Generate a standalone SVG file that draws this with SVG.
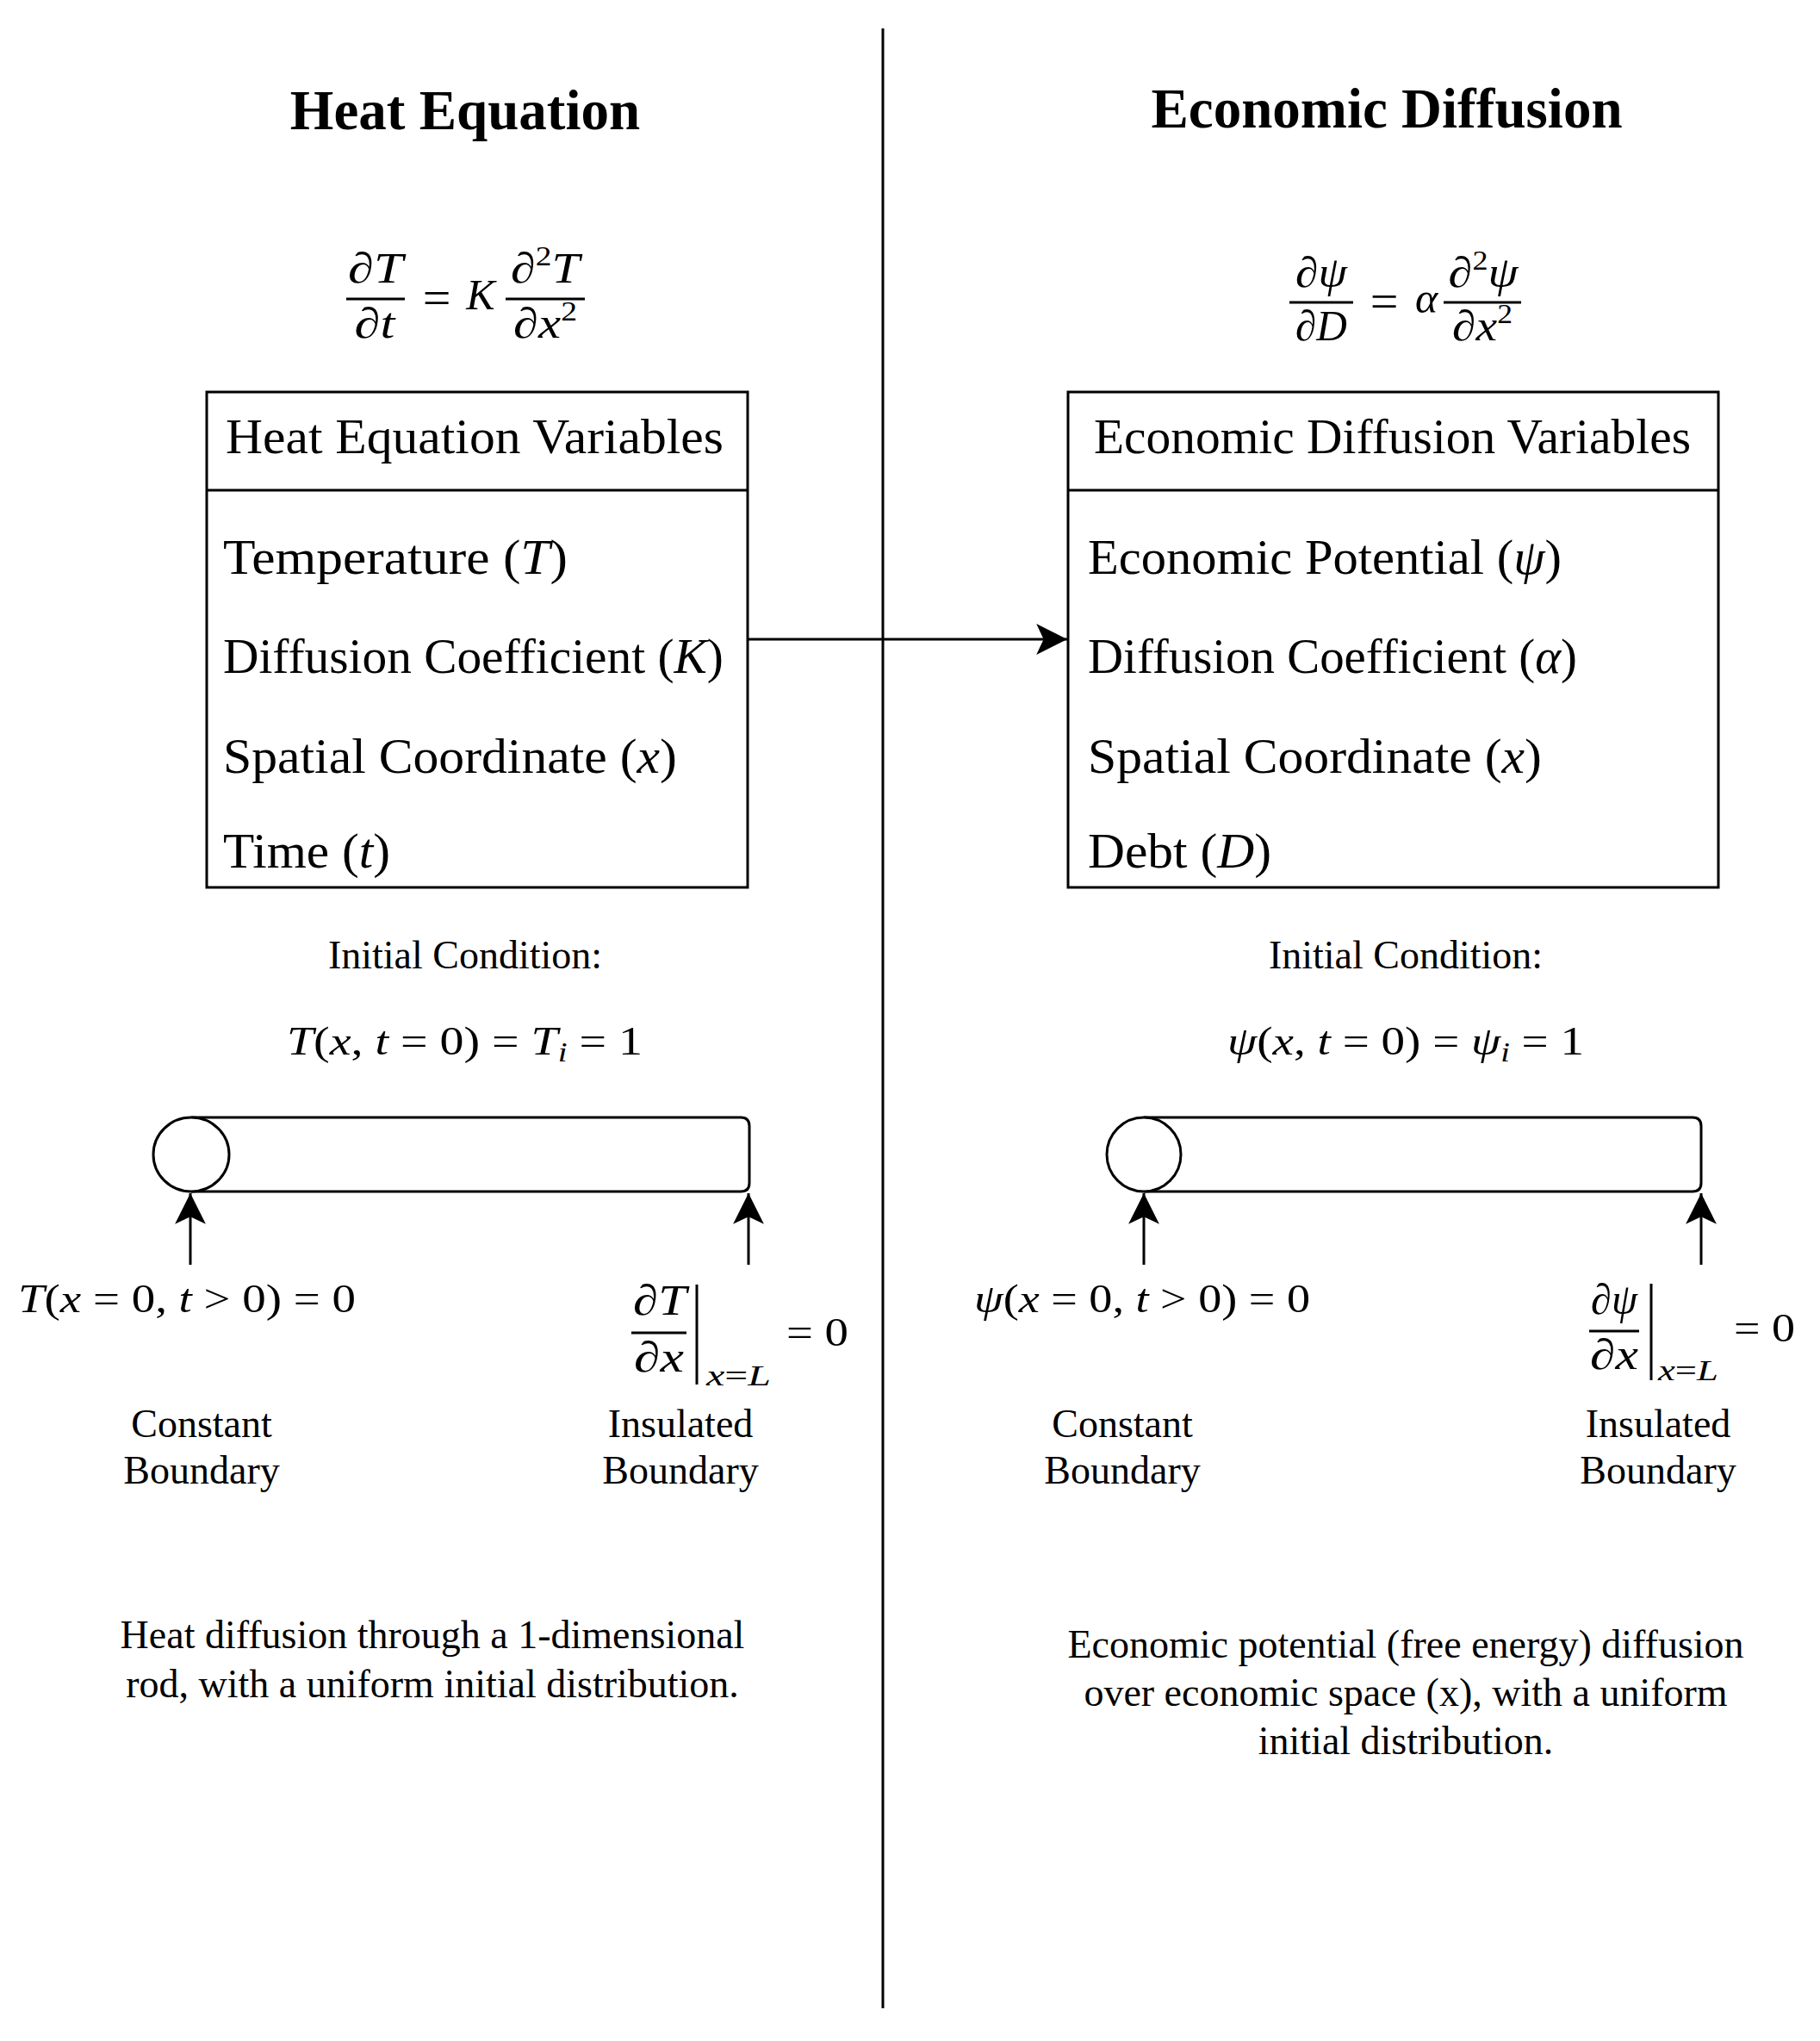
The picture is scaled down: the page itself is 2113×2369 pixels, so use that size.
<svg xmlns="http://www.w3.org/2000/svg" width="2113" height="2369" viewBox="0 0 2113 2369">
<style>
.t{font-family:"Liberation Serif","Times New Roman",serif;fill:#000}
.title{font-size:65px;font-weight:bold;text-anchor:middle}
.lbl{font-size:46px;text-anchor:middle}
.cm{font-size:56px}
.m{font-size:46px}
.mc{font-size:50px;text-anchor:middle}
.eqs{font-size:58px;text-anchor:middle}
.sub{font-size:34px}
.i{font-style:italic}
.ln{stroke:#000;stroke-width:3;fill:none}
.box{stroke:#000;stroke-width:3;fill:#fff}
</style>
<defs>
<marker id="arr" markerUnits="userSpaceOnUse" markerWidth="40" markerHeight="40" viewBox="-36 -18 38 36" refX="0" refY="0" orient="auto">
<path d="M0,0 L-34,-17 L-26,0 L-34,17 Z" fill="#000"/>
</marker>
</defs>
<rect width="2113" height="2369" fill="#fff"/>

<g id="divider"><line class="ln" x1="1025" y1="33" x2="1025" y2="2331"/></g>

<g id="title-heat"><text class="t title" x="540" y="150">Heat Equation</text></g>
<g id="title-econ"><text class="t title" x="1610" y="148">Economic Diffusion</text></g>

<g id="eq-heat">
<text class="t mc i" x="436" y="328" textLength="64" lengthAdjust="spacingAndGlyphs">∂T</text>
<line class="ln" x1="402" y1="347" x2="470" y2="347"/>
<text class="t mc i" x="435" y="392" textLength="47" lengthAdjust="spacingAndGlyphs">∂t</text>
<text class="t eqs" x="507" y="365">=</text>
<text class="t mc i" x="558" y="359">K</text>
<line class="ln" x1="587" y1="347" x2="679" y2="347"/>
<text class="t mc i" x="633" y="328" textLength="80" lengthAdjust="spacingAndGlyphs">∂<tspan font-size="32" dy="-20" font-style="normal">2</tspan><tspan dy="20">T</tspan></text>
<text class="t mc i" x="633" y="392" textLength="74" lengthAdjust="spacingAndGlyphs">∂x<tspan font-size="32" dy="-20" font-style="normal">2</tspan></text>
</g>

<g id="eq-econ">
<text class="t mc i" x="1534" y="333" textLength="60" lengthAdjust="spacingAndGlyphs">∂ψ</text>
<line class="ln" x1="1497" y1="351" x2="1571" y2="351"/>
<text class="t mc i" x="1534" y="395" textLength="60" lengthAdjust="spacingAndGlyphs">∂D</text>
<text class="t eqs" x="1607" y="369">=</text>
<text class="t mc i" x="1656" y="363">α</text>
<line class="ln" x1="1676" y1="351" x2="1766" y2="351"/>
<text class="t mc i" x="1722" y="333" textLength="81" lengthAdjust="spacingAndGlyphs">∂<tspan font-size="32" dy="-20" font-style="normal">2</tspan><tspan dy="20">ψ</tspan></text>
<text class="t mc i" x="1721" y="395" textLength="70" lengthAdjust="spacingAndGlyphs">∂x<tspan font-size="32" dy="-20" font-style="normal">2</tspan></text>
</g>

<g id="heat-vars">
<rect class="box" x="240" y="455" width="628" height="575"/>
<line class="ln" x1="240" y1="569" x2="868" y2="569"/>
<text class="t cm" x="262" y="526" textLength="578" lengthAdjust="spacingAndGlyphs">Heat Equation Variables</text>
<text class="t cm" x="259" y="666" textLength="400" lengthAdjust="spacingAndGlyphs">Temperature (<tspan class="i">T</tspan>)</text>
<text class="t cm" x="259" y="781" textLength="581" lengthAdjust="spacingAndGlyphs">Diffusion Coefficient (<tspan class="i">K</tspan>)</text>
<text class="t cm" x="259" y="897" textLength="527" lengthAdjust="spacingAndGlyphs">Spatial Coordinate (<tspan class="i">x</tspan>)</text>
<text class="t cm" x="259" y="1007" textLength="194" lengthAdjust="spacingAndGlyphs">Time (<tspan class="i">t</tspan>)</text>
</g>

<g id="econ-vars">
<rect class="box" x="1240" y="455" width="755" height="575"/>
<line class="ln" x1="1240" y1="569" x2="1995" y2="569"/>
<text class="t cm" x="1270" y="526" textLength="693" lengthAdjust="spacingAndGlyphs">Economic Diffusion Variables</text>
<text class="t cm" x="1263" y="666" textLength="550" lengthAdjust="spacingAndGlyphs">Economic Potential (<tspan class="i">ψ</tspan>)</text>
<text class="t cm" x="1263" y="781" textLength="568" lengthAdjust="spacingAndGlyphs">Diffusion Coefficient (<tspan class="i">α</tspan>)</text>
<text class="t cm" x="1263" y="897" textLength="527" lengthAdjust="spacingAndGlyphs">Spatial Coordinate (<tspan class="i">x</tspan>)</text>
<text class="t cm" x="1263" y="1007" textLength="213" lengthAdjust="spacingAndGlyphs">Debt (<tspan class="i">D</tspan>)</text>
</g>

<g id="ic-heat">
<text class="t lbl" x="540" y="1124">Initial Condition:</text>
<text class="t m" x="333" y="1224" textLength="413" lengthAdjust="spacingAndGlyphs"><tspan class="i">T</tspan>(<tspan class="i">x</tspan>, <tspan class="i">t</tspan> = 0) = <tspan class="i">T</tspan><tspan class="i" font-size="32" dy="8">i</tspan><tspan dy="-8"> = 1</tspan></text>
</g>

<g id="ic-econ">
<text class="t lbl" x="1632" y="1124">Initial Condition:</text>
<text class="t m" x="1425" y="1224" textLength="414" lengthAdjust="spacingAndGlyphs"><tspan class="i">ψ</tspan>(<tspan class="i">x</tspan>, <tspan class="i">t</tspan> = 0) = <tspan class="i">ψ</tspan><tspan class="i" font-size="32" dy="8">i</tspan><tspan dy="-8"> = 1</tspan></text>
</g>

<g id="rod-heat">
<path class="ln" d="M222,1297 H860 Q870,1297 870,1307 V1373 Q870,1383 860,1383 H222"/>
<ellipse class="box" cx="222" cy="1340" rx="44" ry="43"/>
</g>

<g id="rod-econ">
<path class="ln" d="M1328,1297 H1965 Q1975,1297 1975,1307 V1373 Q1975,1383 1965,1383 H1328"/>
<ellipse class="box" cx="1328" cy="1340" rx="43" ry="43"/>
</g>

<g id="bc-heat-left">
<text class="t m" x="21" y="1523" textLength="392" lengthAdjust="spacingAndGlyphs"><tspan class="i">T</tspan>(<tspan class="i">x</tspan> = 0, <tspan class="i">t</tspan> &gt; 0) = 0</text>
<text class="t lbl" x="234" y="1668">Constant</text>
<text class="t lbl" x="234" y="1722">Boundary</text>
</g>

<g id="bc-heat-right">
<text class="t mc i" x="766" y="1526" textLength="62" lengthAdjust="spacingAndGlyphs">∂T</text>
<line class="ln" x1="733" y1="1547" x2="797" y2="1547"/>
<text class="t mc i" x="765" y="1592" textLength="58" lengthAdjust="spacingAndGlyphs">∂x</text>
<line class="ln" x1="809" y1="1491" x2="809" y2="1607"/>
<text class="t sub" x="820" y="1608" textLength="75" lengthAdjust="spacingAndGlyphs"><tspan class="i">x</tspan>=<tspan class="i">L</tspan></text>
<text class="t m" x="913" y="1562" textLength="72" lengthAdjust="spacingAndGlyphs">= 0</text>
<text class="t lbl" x="790" y="1668">Insulated</text>
<text class="t lbl" x="790" y="1722">Boundary</text>
</g>

<g id="bc-econ-left">
<text class="t m" x="1131" y="1523" textLength="390" lengthAdjust="spacingAndGlyphs"><tspan class="i">ψ</tspan>(<tspan class="i">x</tspan> = 0, <tspan class="i">t</tspan> &gt; 0) = 0</text>
<text class="t lbl" x="1303" y="1668">Constant</text>
<text class="t lbl" x="1303" y="1722">Boundary</text>
</g>

<g id="bc-econ-right">
<text class="t mc i" x="1874" y="1525" textLength="54" lengthAdjust="spacingAndGlyphs">∂ψ</text>
<line class="ln" x1="1845" y1="1545" x2="1903" y2="1545"/>
<text class="t mc i" x="1874" y="1589" textLength="56" lengthAdjust="spacingAndGlyphs">∂x</text>
<line class="ln" x1="1917" y1="1490" x2="1917" y2="1602"/>
<text class="t sub" x="1925" y="1602" textLength="70" lengthAdjust="spacingAndGlyphs"><tspan class="i">x</tspan>=<tspan class="i">L</tspan></text>
<text class="t m" x="2013" y="1557" textLength="71" lengthAdjust="spacingAndGlyphs">= 0</text>
<text class="t lbl" x="1925" y="1668">Insulated</text>
<text class="t lbl" x="1925" y="1722">Boundary</text>
</g>

<g id="desc-heat">
<text class="t lbl" x="502" y="1913">Heat diffusion through a 1-dimensional</text>
<text class="t lbl" x="502" y="1970">rod, with a uniform initial distribution.</text>
</g>

<g id="desc-econ">
<text class="t lbl" x="1632" y="1924">Economic potential (free energy) diffusion</text>
<text class="t lbl" x="1632" y="1980">over economic space (x), with a uniform</text>
<text class="t lbl" x="1632" y="2036">initial distribution.</text>
</g>

<g id="connectors">
<line class="ln" x1="868" y1="742" x2="1239" y2="742" marker-end="url(#arr)"/>
<line class="ln" x1="221" y1="1468" x2="221" y2="1385" marker-end="url(#arr)"/>
<line class="ln" x1="869" y1="1468" x2="869" y2="1385" marker-end="url(#arr)"/>
<line class="ln" x1="1328" y1="1468" x2="1328" y2="1385" marker-end="url(#arr)"/>
<line class="ln" x1="1975" y1="1468" x2="1975" y2="1385" marker-end="url(#arr)"/>
</g>
</svg>
